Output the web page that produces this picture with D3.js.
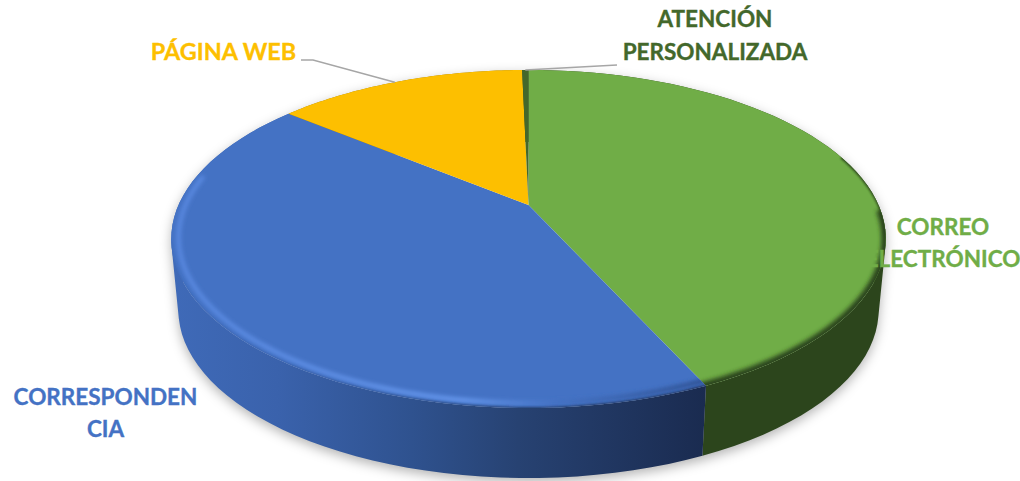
<!DOCTYPE html>
<html>
<head>
<meta charset="utf-8">
<script src="https://cdn.jsdelivr.net/npm/d3@7"></script>
<style>
html,body{margin:0;padding:0;background:#fff}
svg{display:block}
text{font-family:Lato,"Open Sans",sans-serif;font-weight:700;text-anchor:middle;stroke-width:.35px}
</style>
</head>
<body>
<div id="chart"></div>
<script>
// Channels through which requests arrive, share of each (%)
const categories = ["CORREO ELECTRÓNICO", "CORRESPONDENCIA", "PÁGINA WEB", "ATENCIÓN PERSONALIZADA"];
const shares = [43.2, 42.75, 13.7, 0.35];
const faceColors = ["#70ad47", "#4472c4", "#fdbf00", "#43682b"];
const labelLines = [["CORREO", "ELECTRÓNICO"], ["CORRESPONDEN", "CIA"], ["PÁGINA WEB"], ["ATENCIÓN", "PERSONALIZADA"]];

const width = 1020, height = 481;
const svg = d3.select("#chart").append("svg").attr("width", width).attr("height", height);
const defs = svg.append("defs");

// Perspective projection of the unit disc onto the screen
const cx = 528.5, R = 350, persp = -0.201, tiltA = 121, tiltB = 205;
function project(theta, r = 1) {
  const u = r * Math.sin(theta), v = -r * Math.cos(theta), w = 1 + persp * v;
  return [cx + R * u / w, (tiltA * v + tiltB) / w];
}
// Same disc at the foot of the pie's side wall
function projectLower(theta) {
  const [x, y] = project(theta);
  return [cx + (x - cx) * 0.98, 310 + (y - 239) * 168 / 169];
}
const angles = (a0, a1) => d3.range(0, 61).map(i => a0 + (a1 - a0) * i / 60);
const line = d3.line();

const arcs = d3.pie().sort(null).startAngle(0).endAngle(2 * Math.PI)(shares);

// Side surface swept between the two rims: one quad per step, all wound the
// same way so that the union keeps the straight silhouette at the widest points
function wallPath(a0, a1) {
  const a = angles(a0, a1);
  let d = "";
  for (let i = 0; i < a.length - 1; i++) {
    const quad = [project(a[i]), project(a[i + 1]), projectLower(a[i + 1]), projectLower(a[i])];
    if (d3.polygonArea(quad) < 0) quad.reverse();
    d += line(quad) + "Z";
  }
  return d;
}

// Filters and gradients
const blur = (id, s) => defs.append("filter").attr("id", id)
  .attr("x", "-20%").attr("y", "-20%").attr("width", "140%").attr("height", "140%")
  .append("feGaussianBlur").attr("stdDeviation", s);
blur("soft1", 1); blur("soft2", 2); blur("shadow", 6);

function xGradient(id, stops) {
  const g = defs.append("linearGradient").attr("id", id)
    .attr("gradientUnits", "userSpaceOnUse").attr("x1", 171).attr("x2", 705).attr("y1", 0).attr("y2", 0);
  stops.forEach(([o, c]) => g.append("stop").attr("offset", o).attr("stop-color", c));
}
xGradient("blueWall", [[0, "#3f6ab8"], [0.2, "#3a62ac"], [0.45, "#2f528f"], [0.65, "#274272"], [1, "#1a2b50"]]);
xGradient("blueGlow", [[0, "#5a8ae2"], [0.55, "#6a9cf2"], [0.72, "#4472c4"], [1, "#2a4a88"]]);
const wallFills = ["#2c451c", "url(#blueWall)", "#a07a00", "#2c451c"];

// Soft shadow under the pie
svg.append("path")
  .attr("d", wallPath(0, 2 * Math.PI))
  .attr("transform", "translate(0,4)")
  .attr("fill", "#000").attr("fill-opacity", 0.3)
  .attr("filter", "url(#shadow)");

// Side wall of each slice
svg.append("g").selectAll("path").data(arcs).join("path")
  .attr("fill", (d, i) => wallFills[i])
  .attr("d", d => wallPath(d.startAngle, d.endAngle));

// Top faces
const facePath = d => line([project(0, 0)].concat(angles(d.startAngle, d.endAngle).map(t => project(t)))) + "Z";
defs.selectAll("clipPath").data(arcs).join("clipPath")
  .attr("id", (d, i) => "face" + i)
  .append("path").attr("d", facePath);
svg.append("g").selectAll("path").data(arcs).join("path")
  .attr("fill", (d, i) => faceColors[i])
  .attr("d", facePath);

// Bevel along the front of the rim: thin on the right side, wider towards the front
const rimPath = (a0, a1, r) => line(angles(a0, a1).map(t => project(t, r)));
const green = arcs[0], blue = arcs[1];
const greenBevel = svg.append("g").attr("clip-path", "url(#face0)");
greenBevel.append("path")
  .attr("d", rimPath(green.startAngle + 1.25, green.startAngle + 1.75, 1.003))
  .attr("fill", "none").attr("stroke", "#2c451c").attr("stroke-width", 4)
  .attr("filter", "url(#soft1)");
greenBevel.append("path")
  .attr("d", rimPath(green.startAngle + 1.6, green.endAngle + 0.05, 1))
  .attr("fill", "none").attr("stroke", "#2c451c").attr("stroke-width", 9)
  .attr("filter", "url(#soft2)");
const blueBevel = svg.append("g").attr("clip-path", "url(#face1)");
blueBevel.append("path")
  .attr("d", rimPath(blue.startAngle - 0.03, blue.endAngle - 0.5, 0.98))
  .attr("fill", "none").attr("stroke", "url(#blueGlow)").attr("stroke-width", 4)
  .attr("filter", "url(#soft2)");
blueBevel.append("path")
  .attr("d", rimPath(blue.startAngle - 0.03, blue.endAngle - 0.9, 1.004))
  .attr("fill", "none").attr("stroke", "url(#blueWall)").attr("stroke-width", 4)
  .attr("filter", "url(#soft1)");

// Leader lines from the outer labels to their slices
const leaderGroup = svg.append("g").attr("fill", "none").attr("stroke", "#a6a6a6").attr("stroke-width", 1.4);
const midAngle = d => (d.startAngle + d.endAngle) / 2;
leaderGroup.append("path").attr("d", line([[301, 60], [313, 60], project(midAngle(arcs[2]) - 0.015)]));
leaderGroup.append("path").attr("d", line([[617, 65], project(midAngle(arcs[3]))]));

// Category labels
const labelCenters = [[943, 235], [105.5, 405], [223.5, 60], [715, 27]];
const lineStep = [32, 32, 0, 33];
const labelSizes = [22.5, 22.5, 23.4, 22.5];
const labels = svg.append("g");
labelLines.forEach((rows, i) => {
  rows.forEach((row, j) => {
    labels.append("text")
      .attr("x", labelCenters[i][0])
      .attr("y", labelCenters[i][1] + j * lineStep[i])
      .attr("font-size", labelSizes[i])
      .attr("fill", faceColors[i])
      .attr("stroke", faceColors[i])
      .text(row);
  });
});
</script>
</body>
</html>
